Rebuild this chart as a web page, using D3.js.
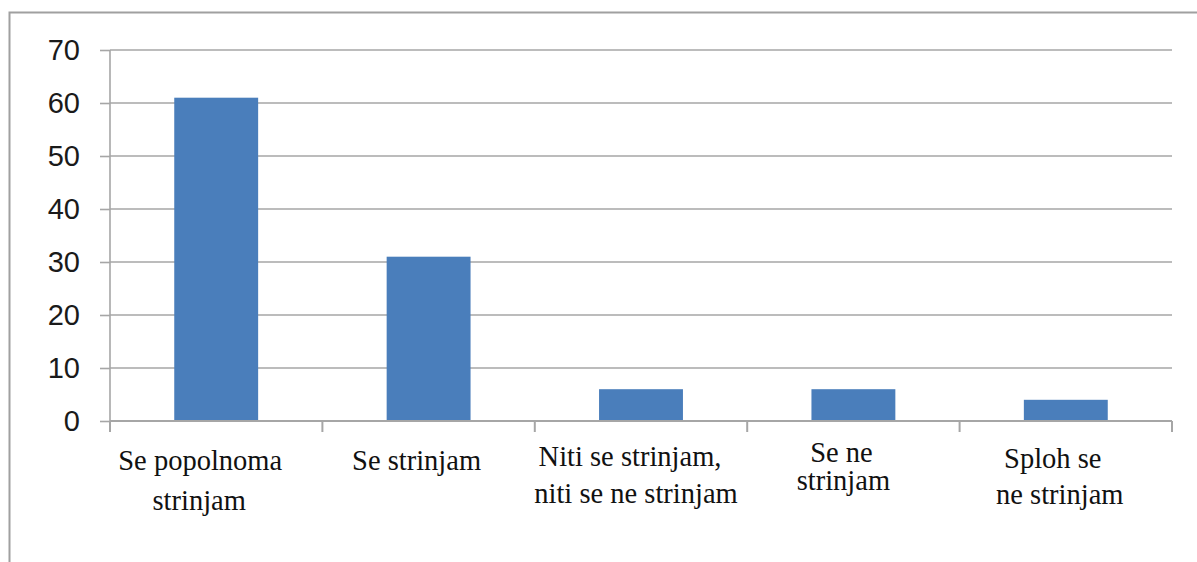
<!DOCTYPE html>
<html>
<head>
<meta charset="utf-8">
<script src="https://cdn.jsdelivr.net/npm/d3@7"></script>
<style>
  html, body { margin: 0; padding: 0; background: #fff; }
  svg { display: block; }
</style>
</head>
<body>
<svg id="chart" width="1197" height="562"></svg>
<script>
// ---- data ----
const categories = ["Se popolnoma strinjam", "Se strinjam", "Niti se strinjam, niti se ne strinjam", "Se ne strinjam", "Sploh se ne strinjam"];
const values = [61, 31, 6, 6, 4];
const yTicks = [0, 10, 20, 30, 40, 50, 60, 70];
const categoryLines = [
  ["Se popolnoma", "strinjam"],
  ["Se strinjam"],
  ["Niti se strinjam,", "niti se ne strinjam"],
  ["Se ne", "strinjam"],
  ["Sploh se", "ne strinjam"]
];

// ---- layout (positions/styles only) ----
const labelLayout = [
  { dx: [-16, -17], y: [470, 510] },
  { dx: [-12], y: [470] },
  { dx: [-11, -5], y: [466, 503] },
  { dx: [-12, -10], y: [462, 490] },
  { dx: [-13, -6], y: [468, 504] }
];
const W = 1197, H = 562;
const mLeft = 110, mRight = 1172, mTop = 50, mBottom = 421;
const gridColor = "#a6a6a6";
const barColor = "#4a7ebb";

// pick an installed serif font and size it to the reference text width
const cv = document.createElement("canvas").getContext("2d");
function w(font, txt) { cv.font = font; return cv.measureText(txt).width; }
const probe = "Se popolnoma strinjam";
const serifCandidates = ["Liberation Serif", "Times New Roman", "Tinos", "Noto Serif", "DejaVu Serif"];
let serif = "serif";
for (const f of serifCandidates) {
  if (w(`40px "${f}", monospace`, probe) !== w("40px monospace", probe) ||
      w(`40px "${f}", sans-serif`, probe) !== w("40px sans-serif", probe)) { serif = f; break; }
}
const serifSize = Math.round(28 * 164 / w(`28px "${serif}", serif`, "Se popolnoma") * 10) / 10;

const svg = d3.select("#chart");

// outer frame
svg.append("path")
  .attr("d", `M9.5,${H} L9.5,12.5 L${W},12.5`)
  .attr("fill", "none").attr("stroke", "#a0a0a0").attr("stroke-width", 2);

const x = d3.scaleBand().domain(categories).range([mLeft, mRight])
  .paddingInner(0.605).paddingOuter(0.3025);
const y = d3.scaleLinear().domain([0, 70]).range([mBottom, mTop]);

// gridlines
svg.append("g").selectAll("line").data(yTicks.filter(d => d > 0)).join("line")
  .attr("x1", mLeft).attr("x2", mRight)
  .attr("y1", d => y(d)).attr("y2", d => y(d))
  .attr("stroke", gridColor).attr("stroke-width", 1.6);

// y axis
const yAxis = svg.append("g").attr("transform", `translate(${mLeft},0)`)
  .call(d3.axisLeft(y).tickValues(yTicks).tickSizeInner(10).tickSizeOuter(0).tickPadding(20));
yAxis.select(".domain").attr("stroke", gridColor).attr("stroke-width", 1.6)
  .attr("d", `M0,${mTop} V${mBottom + 11}`);
yAxis.selectAll(".tick line").attr("stroke", gridColor).attr("stroke-width", 1.6);
yAxis.selectAll(".tick text")
  .style("font-family", "'Liberation Sans', Arial, sans-serif")
  .style("font-size", "29px").attr("fill", "#1a1a1a");

// bars
svg.append("g").selectAll("rect").data(values).join("rect")
  .attr("x", (d, i) => x(categories[i]))
  .attr("width", x.bandwidth())
  .attr("y", d => y(d))
  .attr("height", d => y(0) - y(d))
  .attr("fill", barColor);

// x axis line + boundary ticks
svg.append("line").attr("x1", mLeft).attr("x2", mRight)
  .attr("y1", y(0)).attr("y2", y(0))
  .attr("stroke", gridColor).attr("stroke-width", 2);
const bounds = categories.map(c => x(c) - x.step() * x.paddingInner() / 2);
bounds.push(mRight);
svg.append("g").selectAll("line").data(bounds).join("line")
  .attr("x1", d => d).attr("x2", d => d)
  .attr("y1", y(0)).attr("y2", y(0) + 11)
  .attr("stroke", gridColor).attr("stroke-width", 2);

// category labels
const lg = svg.append("g")
  .style("font-family", `"${serif}", serif`)
  .style("font-size", serifSize + "px").attr("fill", "#111").attr("text-anchor", "middle");
categoryLines.forEach((lines, i) => {
  const cx = x(categories[i]) + x.bandwidth() / 2;
  lines.forEach((t, j) => {
    lg.append("text")
      .attr("x", cx + labelLayout[i].dx[j])
      .attr("y", labelLayout[i].y[j])
      .text(t);
  });
});
</script>
</body>
</html>
